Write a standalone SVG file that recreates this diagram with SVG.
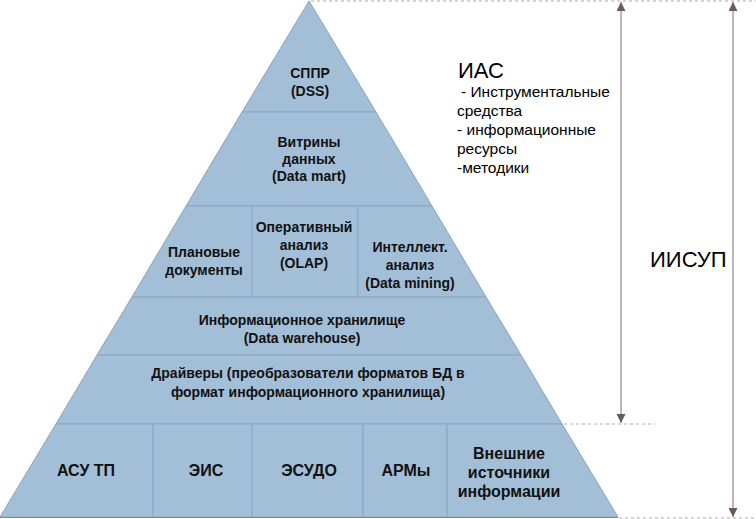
<svg xmlns="http://www.w3.org/2000/svg" width="756" height="519" viewBox="0 0 756 519">
<style>
.cell{fill:#a3bfd8;stroke:#8aa6c1;stroke-width:1}
.t{font-family:"Liberation Sans",Arial,sans-serif;font-size:14px;font-weight:bold;fill:#111;text-anchor:middle}
.b{font-size:16px}
.n{font-family:"Liberation Sans",Arial,sans-serif;fill:#000}
.dash{stroke:#aaa;stroke-width:1;stroke-dasharray:3,3;fill:none}
.arr{stroke:#9a8f8c;stroke-width:1.3;fill:none;marker-start:url(#ah);marker-end:url(#ah)}
</style>
<defs>
<marker id="ah" viewBox="0 0 10 10" refX="10" refY="5" markerWidth="9" markerHeight="9" markerUnits="userSpaceOnUse" orient="auto-start-reverse">
<path d="M0,0 L10,5 L0,10 z" fill="#6e5a55"/>
</marker>
</defs>
<rect width="756" height="519" fill="#fff"/>
<g id="pyramid">
<polygon points="309,1 618,517 0,517" fill="#a3bfd8"/>
</g>
<g id="n-dss"><polygon class="cell" points="309,1 376,112 242,112"/>
<text class="t" x="310" y="78">СППР</text><text class="t" x="310" y="96">(DSS)</text></g>
<g id="n-mart"><polygon class="cell" points="242,112 376,112 432,206 186,206"/>
<text class="t" x="309" y="147">Витрины</text><text class="t" x="309" y="164">данных</text><text class="t" x="309" y="181">(Data mart)</text></g>
<g id="n-plan"><polygon class="cell" points="186,206 252,206 252,297 132,297"/>
<text class="t" x="204" y="257">Плановые</text><text class="t" x="204" y="275">документы</text></g>
<g id="n-olap"><rect class="cell" x="252" y="206" width="106" height="91"/>
<text class="t" x="304" y="232">Оперативный</text><text class="t" x="304" y="250">анализ</text><text class="t" x="304" y="268">(OLAP)</text></g>
<g id="n-mining"><polygon class="cell" points="358,206 432,206 486,297 358,297"/>
<text class="t" x="410" y="252">Интеллект.</text><text class="t" x="410" y="270">анализ</text><text class="t" x="410" y="288">(Data mining)</text></g>
<g id="n-dw"><polygon class="cell" points="132,297 486,297 521,355 97,355"/>
<text class="t" x="302" y="325">Информационное хранилище</text><text class="t" x="302" y="343">(Data warehouse)</text></g>
<g id="n-drv"><polygon class="cell" points="97,355 521,355 562,424 56,424"/>
<text class="t" x="308" y="378">Драйверы (преобразователи форматов БД в</text><text class="t" x="308" y="397">формат информационного хранилища)</text></g>
<g id="n-asu"><polygon class="cell" points="56,424 153,424 153,517 0,517"/>
<text class="t b" x="86" y="476">АСУ ТП</text></g>
<g id="n-eis"><rect class="cell" x="153" y="424" width="99" height="93"/>
<text class="t b" x="206" y="476">ЭИС</text></g>
<g id="n-esudo"><rect class="cell" x="252" y="424" width="111" height="93"/>
<text class="t b" x="309" y="476">ЭСУДО</text></g>
<g id="n-arm"><rect class="cell" x="363" y="424" width="84" height="93"/>
<text class="t b" x="406" y="476">АРМы</text></g>
<g id="n-ext"><polygon class="cell" points="447,424 562,424 618,517 447,517"/>
<text class="t b" x="509" y="459">Внешние</text><text class="t b" x="509" y="478">источники</text><text class="t b" x="509" y="497">информации</text></g>
<line x1="0" y1="517.5" x2="618" y2="517.5" stroke="#7f8a94" stroke-width="1"/>
<g id="connectors">
<line class="dash" x1="311" y1="1" x2="756" y2="1"/>
<line class="dash" x1="564" y1="424" x2="655" y2="424"/>
<line class="dash" x1="619" y1="518" x2="756" y2="518"/>
<line class="arr" x1="621" y1="2" x2="621" y2="423"/>
<line class="arr" x1="733" y1="2" x2="733" y2="517"/>
</g>
<g id="ias">
<text class="n" x="458" y="78" font-size="22">ИАС</text>
<text class="n" font-size="15.5"><tspan x="461" y="97">- Инструментальные</tspan><tspan x="457" y="116">средства</tspan><tspan x="457" y="135">- информационные</tspan><tspan x="457" y="154">ресурсы</tspan><tspan x="457" y="173">-методики</tspan></text>
</g>
<g id="iisup"><text class="n" x="650" y="267" font-size="22">ИИСУП</text></g>
</svg>
